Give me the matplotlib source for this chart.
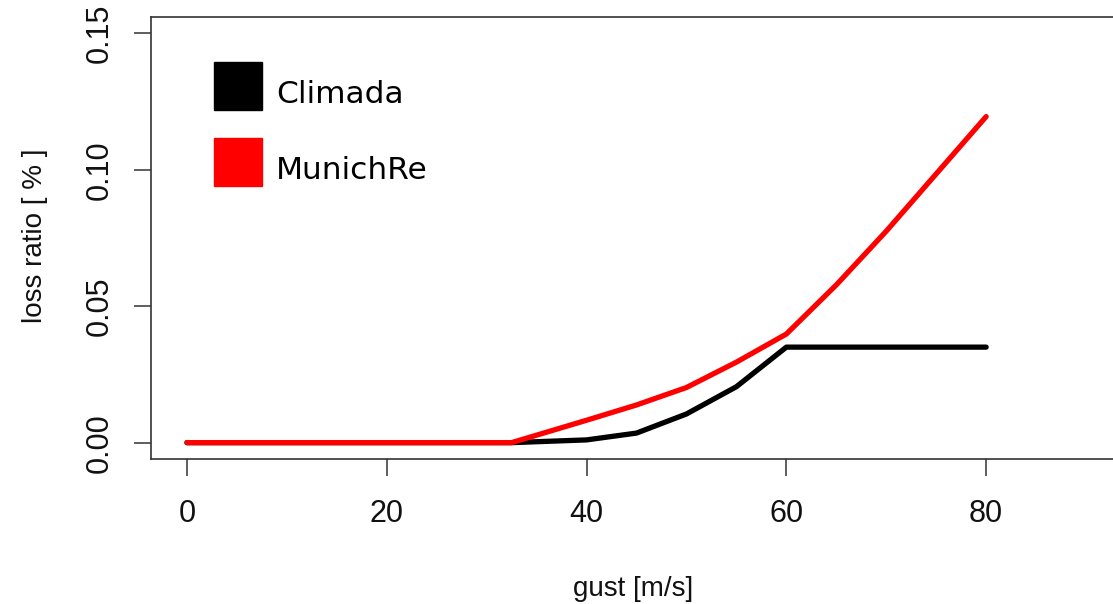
import matplotlib
matplotlib.use("Agg")
import matplotlib.pyplot as plt

# gust speed [m/s] and loss ratio
gust_climada = [0, 32.5, 40, 45, 50, 55, 60, 80]
loss_climada = [0, 0, 0.001, 0.0035, 0.0105, 0.0205, 0.035, 0.035]

gust_munich = [0, 32.5, 40, 45, 50, 55, 60, 65, 70, 75, 80]
loss_munich = [0, 0, 0.0082, 0.0138, 0.0202, 0.0295, 0.0398, 0.0578, 0.0775, 0.0985, 0.1195]

series_names = ['Climada', 'MunichRe']
series_colors = ['black', 'red']

x_ticks = [0, 20, 40, 60, 80]
y_ticks = [0.00, 0.05, 0.10, 0.15]

plt.rcParams['font.family'] = ['Liberation Sans', 'DejaVu Sans']

fig = plt.figure(figsize=(11.13, 6.04), dpi=100)
# R style plot region; right edge of the box falls outside the picture
ax = fig.add_axes([151/1113, 1 - 459/604, 971/1113, 442/604])

ax.plot(gust_climada, loss_climada, color=series_colors[0], lw=3.8,
        solid_capstyle='round', solid_joinstyle='round')
ax.plot(gust_munich, loss_munich, color=series_colors[1], lw=3.8,
        solid_capstyle='round', solid_joinstyle='round')

# R adds 4% to each end of the range
ax.set_xlim(-3.6, 93.6)
ax.set_ylim(-0.006, 0.156)

ax.set_xticks(x_ticks)
ax.set_yticks(y_ticks)
ax.set_yticklabels(['%.2f' % v for v in y_ticks], rotation=90, va='center')
ax.tick_params(axis='both', direction='out', length=12, width=1.1,
               color='#333333', labelsize=22, labelcolor='#111111')
ax.tick_params(axis='x', pad=17)
ax.tick_params(axis='y', pad=14)

for sp in ax.spines.values():
    sp.set_linewidth(1.2)
    sp.set_color('#333333')

ax.set_xlabel('gust [m/s]', fontsize=20, color='#111111')
ax.xaxis.set_label_coords(0.497, -0.265)
ax.set_ylabel('loss ratio [ % ]', fontsize=20, color='#111111')
ax.yaxis.set_label_coords(-0.106, 0.505)

# legend: filled squares with labels
legend_y = [0.845, 0.673]
for name, col, yy in zip(series_names, series_colors, legend_y):
    ax.plot([0.0896], [yy], marker='s', ms=35, color=col, mew=1,
            mec=col, transform=ax.transAxes, clip_on=False)
    ax.text(0.1287, yy - 0.02, name, transform=ax.transAxes, fontsize=22.5,
            family='DejaVu Sans', va='center', ha='left', color='black')

fig.savefig('out.png', dpi=100)
